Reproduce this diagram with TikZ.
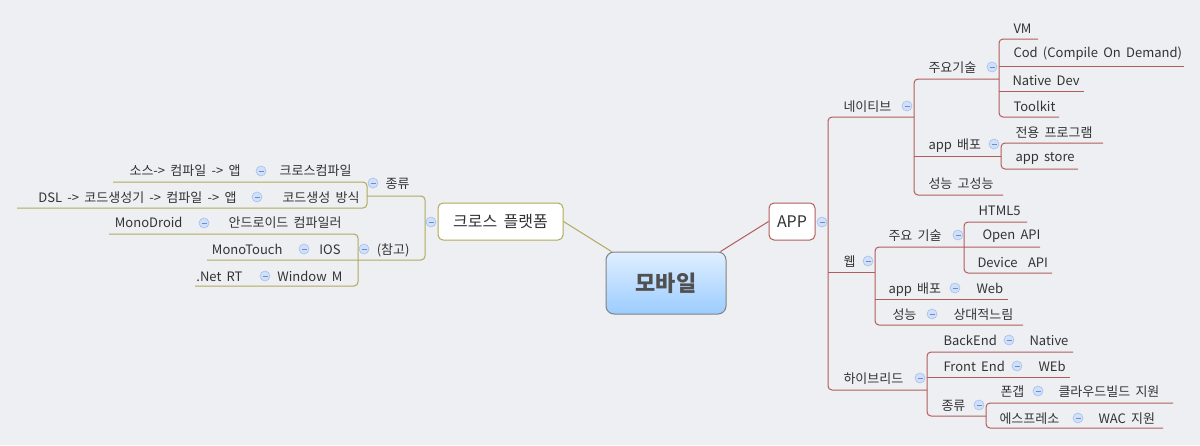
\documentclass[tikz,border=0pt]{standalone}
\usepackage{fontspec}
\setmainfont[WordSpace=1.8]{Noto Sans CJK KR}

\definecolor{bgcolor}{RGB}{238,239,243}
\definecolor{textgray}{RGB}{51,51,51}
\definecolor{centertext}{RGB}{80,80,80}
\definecolor{centeredge}{RGB}{130,130,130}
\definecolor{centertop}{RGB}{224,239,255}
\definecolor{centerbottom}{RGB}{155,204,255}
\definecolor{crossline}{RGB}{175,170,90}
\definecolor{appline}{RGB}{178,92,92}
\definecolor{foldfill}{RGB}{208,224,250}
\definecolor{foldedge}{RGB}{165,192,235}
\definecolor{foldminus}{RGB}{110,140,200}

\begin{document}
\begin{tikzpicture}[x=1pt, y=-1pt, line width=1pt,
    center node/.style={rounded corners=8pt, draw=centeredge, top color=centertop, bottom color=centerbottom,
        minimum width=120pt, minimum height=62pt, text=centertext, font=\fontsize{22}{24}\selectfont\bfseries},
    main node/.style={rounded corners=5pt, draw, fill=white, minimum height=37pt, text=textgray, font=\fontsize{16}{18}\selectfont},
    topic/.style={anchor=base west, inner sep=0pt, yshift=-5pt, text=textgray, font=\fontsize{13}{15}\selectfont},
    left topic/.style={topic, anchor=base east},
    fold node/.style={circle, draw=foldedge, fill=foldfill, minimum size=10pt, inner sep=0pt, line width=.6pt,
        path picture={\draw[foldminus, line width=.8pt] ([xshift=-2.5pt]path picture bounding box.center) -- ([xshift=2.5pt]path picture bounding box.center);}},
    app line/.style={draw=appline, rounded corners=4pt},
    cross line/.style={draw=crossline, rounded corners=4pt}]

\fill[bgcolor] (0,0) rectangle (1200,445);
\useasboundingbox (0,0) rectangle (1200,445);

% central topic and main branches
\node[center node] (mobile) at (666,283) {모바일};
\node[main node, draw=crossline, minimum width=125pt] (cross) at (500.5,221.5) {크로스 플랫폼};
\node[main node, draw=appline, minimum width=46pt] (app) at (792,221.5) {APP};
\draw[crossline] (cross.east) -- ([xshift=6pt]mobile.north west);
\draw[appline] (app.west) -- ([xshift=-6pt]mobile.north east);

% APP side
\draw[app line] (914,117) -- (828,117) -- (828,390) -- (927,390);
\draw[app line] (828,272) -- (875,272);
\draw[app line] (999,79) -- (914,79) -- (914,195) -- (1003,195);
\draw[app line] (914,156) -- (1001,156);
\draw[app line] (1038,39) -- (999,39) -- (999,117) -- (1059,117);
\draw[app line] (999,66) -- (1184,66);
\draw[app line] (999,91) -- (1084,91);
\draw[app line] (1103,143) -- (1001,143) -- (1001,169) -- (1078,169);
\draw[app line] (1040,247) -- (875,247) -- (875,325) -- (1023,325);
\draw[app line] (875,299) -- (1008,299);
\draw[app line] (1027,222) -- (964,222) -- (964,273) -- (1052,273);
\draw[app line] (1073,352) -- (927,352) -- (927,416) -- (986,416);
\draw[app line] (927,377) -- (1070,377);
\draw[app line] (1173,403) -- (986,403) -- (986,428) -- (1163,428);

\node[topic] (native) at (843,106) {네이티브};
\node[topic] (tech) at (928,67) {주요기술};
\node[topic] (vm) at (1013,28) {VM};
\node[topic] (cod) at (1013,52) {Cod (Compile On Demand)};
\node[topic] (nativedev) at (1012,80) {Native Dev};
\node[topic] (toolkit) at (1013,106) {Toolkit};
\node[topic] (deploy) at (928,144) {app 배포};
\node[topic] (program) at (1015,132) {전용 프로그램};
\node[topic] (store) at (1015,156) {app store};
\node[topic] (perf) at (928,183) {성능 고성능};
\node[topic] (web) at (843,261) {웹};
\node[topic] (webtech) at (888,235) {주요 기술};
\node[topic] (html) at (978,210) {HTML5};
\node[topic] (openapi) at (982,234) {Open API};
\node[topic] (deviceapi) at (977,262) {Device\ \ API};
\node[topic] (webdeploy) at (888,288) {app 배포};
\node[topic] (webweb) at (976,288) {Web};
\node[topic] (webperf) at (892,314) {성능};
\node[topic] (slow) at (953,314) {상대적느림};
\node[topic] (hybrid) at (843,378) {하이브리드};
\node[topic] (backend) at (943,340) {BackEnd};
\node[topic] (backnative) at (1029,340) {Native};
\node[topic] (frontend) at (943,366) {Front End};
\node[topic] (frontweb) at (1038,366) {WEb};
\node[topic] (hybridkind) at (941,405) {종류};
\node[topic] (phonegap) at (1000,391) {폰갭};
\node[topic] (cloud) at (1058,391) {클라우드빌드 지원};
\node[topic] (espresso) at (999,418) {에스프레소};
\node[topic] (wac) at (1098,418) {WAC 지원};

% cross platform side
\draw[cross line] (367,196) -- (425,196) -- (425,260) -- (207,260);
\draw[cross line] (113,182) -- (367,182) -- (367,208) -- (17,208);
\draw[cross line] (109,234) -- (358,234) -- (358,286) -- (195,286);

\node[left topic] (kind) at (410,183) {종류};
\node[left topic] (crosscomp) at (352,170) {크로스컴파일};
\node[left topic] (source) at (241,170) {소스-> 컴파일 -> 앱};
\node[left topic] (codegen) at (360,197) {코드생성 방식};
\node[left topic] (dsl) at (237,197) {DSL -> 코드생성기 -> 컴파일 -> 앱};
\node[left topic] (note) at (410,249) {(참고)};
\node[left topic] (android) at (342,222) {안드로이드 컴파일러};
\node[left topic] (monodroid) at (183,222) {MonoDroid};
\node[left topic] (ios) at (341,249) {IOS};
\node[left topic] (monotouch) at (283,249) {MonoTouch};
\node[left topic] (windows) at (343,276) {Window M};
\node[left topic] (netrt) at (243,276) {.Net RT};

% fold markers
\node[fold node] (appfold) at (822,222) {};
\node[fold node] (crossfold) at (431,222) {};
\node[fold node] (nativefold) at (907,106) {};
\node[fold node] (techfold) at (992,67) {};
\node[fold node] (deployfold) at (994,144) {};
\node[fold node] (webfold) at (868,261) {};
\node[fold node] (webtechfold) at (958,235) {};
\node[fold node] (webdeployfold) at (955,288) {};
\node[fold node] (webperffold) at (932,314) {};
\node[fold node] (hybridfold) at (920,378) {};
\node[fold node] (backendfold) at (1009,340) {};
\node[fold node] (frontendfold) at (1017,366) {};
\node[fold node] (hybridkindfold) at (979,405) {};
\node[fold node] (phonegapfold) at (1038,391) {};
\node[fold node] (espressofold) at (1078,418) {};
\node[fold node] (kindfold) at (373,183) {};
\node[fold node] (notefold) at (364,249) {};
\node[fold node] (crosscompfold) at (261,171) {};
\node[fold node] (codegenfold) at (257,197) {};
\node[fold node] (androidfold) at (204,223) {};
\node[fold node] (iosfold) at (304,249) {};
\node[fold node] (windowsfold) at (265,276) {};
\end{tikzpicture}
\end{document}
